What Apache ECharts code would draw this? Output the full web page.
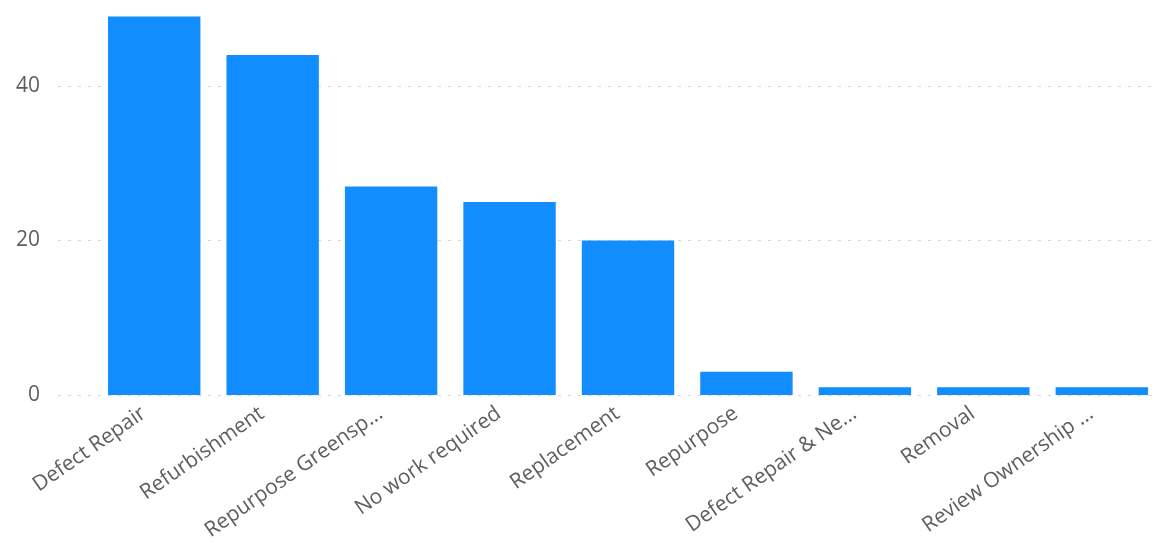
<!DOCTYPE html>
<html>
<head>
<meta charset="utf-8">
<script src="https://cdn.jsdelivr.net/npm/echarts@6/dist/echarts.min.js"></script>
<style>
html,body{margin:0;padding:0;background:#fff;}
#chart{width:1161px;height:550px;}
</style>
</head>
<body>
<div id="chart"></div>
<script>
const categories = ["Defect Repair","Refurbishment","Repurpose Greensp...","No work required","Replacement","Repurpose","Defect Repair & Ne...","Removal","Review Ownership ..."];
const values = [49, 44, 27, 25, 20, 3, 1, 1, 1];
const yTicks = [0, 20, 40];

const chart = echarts.init(document.getElementById('chart'), null, {renderer:'canvas'});
chart.setOption({
  animation:false,
  grid:[
    {left:58, right:4, top:8.75, bottom:155, containLabel:false},
    {left:95, right:-2, top:8.75, bottom:155, containLabel:false}
  ],
  xAxis:[
    {type:'category', gridIndex:0, data:categories, show:false},
    {
      type:'category', gridIndex:1,
      data:categories,
      axisLine:{show:false},
      axisTick:{show:false},
      axisLabel:{
        rotate:35, interval:0, margin:9, padding:[0,13,0,0],
        color:'#605E5C', fontFamily:'Open Sans', fontSize:21
      }
    }
  ],
  yAxis:[
    {
      type:'value', gridIndex:0,
      min:0, max:50, interval:20,
      axisLine:{show:false},
      axisTick:{show:false},
      axisLabel:{
        color:'#605E5C', fontFamily:'Open Sans', fontSize:21, margin:18,
        showMaxLabel:false,
        formatter:(v)=> yTicks.includes(v) ? String(v) : ''
      },
      splitLine:{show:true, showMaxLine:false, lineStyle:{color:'#D6D6D6', type:[3,7], width:1}}
    },
    {
      type:'value', gridIndex:1,
      min:0, max:50, interval:20,
      show:false,
      splitLine:{show:false}
    }
  ],
  series:[{
    type:'bar',
    xAxisIndex:1, yAxisIndex:1,
    data:values,
    barCategoryGap:'22%',
    itemStyle:{color:'#118DFF'}
  }]
});
</script>
</body>
</html>
